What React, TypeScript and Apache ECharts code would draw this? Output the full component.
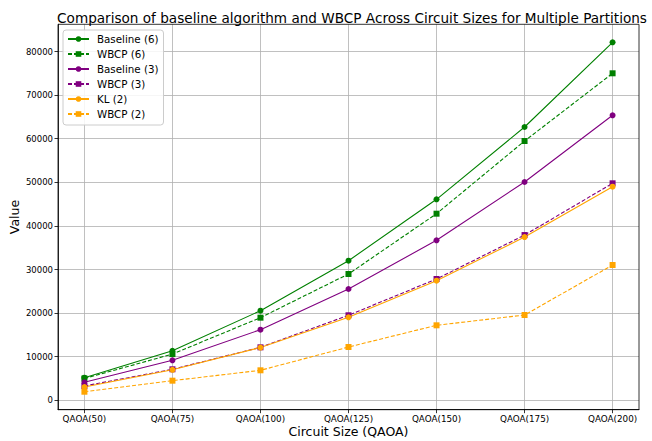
import React, { useEffect, useRef } from "react";
import * as echarts from "echarts";

const categories = ["QAOA(50)", "QAOA(75)", "QAOA(100)", "QAOA(125)", "QAOA(150)", "QAOA(175)", "QAOA(200)"];
const baseline6 = [5180, 11370, 20550, 32020, 46100, 62680, 82110];
const wbcp6 = [5000, 10600, 18950, 28970, 42800, 59470, 75000];
const baseline3 = [4130, 9170, 16200, 25530, 36700, 50070, 65370];
const wbcp3 = [3280, 7110, 12150, 19500, 27820, 37900, 49770];
const kl2 = [3050, 7000, 12100, 19040, 27430, 37440, 48990];
const wbcp2 = [1970, 4500, 6880, 12220, 17200, 19560, 31030];
const yTicks = [0, 10000, 20000, 30000, 40000, 50000, 60000, 70000, 80000];

const FONT = "DejaVu Sans";

export default function App() {
  const ref = useRef<HTMLDivElement>(null);
  useEffect(() => {
    if (!ref.current) return;
    const chart = echarts.init(ref.current, null, { renderer: "svg" });
    const mk = (name: string, data: number[], color: string, dashed: boolean) => ({
      name,
      type: "line",
      data: data.map((v, i) => [i, v]),
      symbol: dashed ? "rect" : "circle",
      symbolSize: 6,
      lineStyle: { color, width: 1.1, type: dashed ? [4, 2] : "solid" },
      itemStyle: { color },
      emphasis: { disabled: true },
    });
    const gl = 58, gr = 639, gt = 24.3, gb = 409.7;
    chart.setOption({
      animation: false,
      backgroundColor: "#fff",
      textStyle: { fontFamily: FONT },
      title: {
        text: "Comparison of baseline algorithm and WBCP Across Circuit Sizes for Multiple Partitions",
        left: 347,
        textAlign: "center",
        top: 6,
        textStyle: { fontFamily: FONT, fontSize: 13.6, fontWeight: "normal", color: "#000" },
      },
      grid: { left: gl, right: 652 - gr, top: gt, bottom: 441 - gb, containLabel: false, outerBoundsMode: "none" },
      legend: {
        orient: "vertical",
        left: 63,
        top: 30,
        itemWidth: 21,
        itemHeight: 7,
        itemGap: 3,
        padding: [3, 5, 5, 4],
        borderColor: "#ccc",
        borderWidth: 1,
        borderRadius: 3,
        backgroundColor: "rgba(255,255,255,0.85)",
        textStyle: { fontFamily: FONT, fontSize: 10.3, color: "#000", lineHeight: 12, padding: [0, 0, 0, 3] },
        data: ["Baseline (6)", "WBCP (6)", "Baseline (3)", "WBCP (3)", "KL (2)", "WBCP (2)"],
      },
      xAxis: {
        type: "value",
        min: -0.3,
        max: 6.3,
        name: "Circuit Size (QAOA)",
        nameLocation: "middle",
        nameGap: 15,
        nameMoveOverlap: false,
        nameTextStyle: { fontFamily: FONT, fontSize: 12.5, color: "#000" },
        axisLine: { show: true, onZero: false, lineStyle: { color: "#000", width: 0.8 } },
        axisTick: { show: true, length: 3.5, customValues: [0, 1, 2, 3, 4, 5, 6], lineStyle: { color: "#000", width: 0.8 } },
        axisLabel: {
          customValues: [0, 1, 2, 3, 4, 5, 6],
          formatter: (v: number) => categories[Math.round(v)] ?? "",
          fontFamily: FONT,
          fontSize: 8.8,
          color: "#000",
          margin: 5,
        },
        splitLine: { show: true, lineStyle: { color: "#b0b0b0", width: 0.8 } },
      },
      yAxis: {
        type: "value",
        min: -2156,
        max: 86240,
        name: "Value",
        nameLocation: "middle",
        nameGap: 37,
        nameMoveOverlap: false,
        nameTextStyle: { fontFamily: FONT, fontSize: 12.5, color: "#000" },
        axisLine: { show: true, onZero: false, lineStyle: { color: "#000", width: 0.8 } },
        axisTick: { show: true, length: 3.5, customValues: yTicks, lineStyle: { color: "#000", width: 0.8 } },
        axisLabel: {
          customValues: yTicks,
          formatter: (v: number) => String(v),
          fontFamily: FONT,
          fontSize: 8.5,
          color: "#000",
          margin: 5,
        },
        splitLine: { show: true, lineStyle: { color: "#b0b0b0", width: 0.8 } },
      },
      graphic: [
        {
          type: "rect",
          shape: { x: gl, y: gt, width: gr - gl, height: gb - gt },
          style: { fill: "none", stroke: "#000", lineWidth: 0.8 },
          silent: true,
          z: 100,
        },
      ],
      series: [
        mk("Baseline (6)", baseline6, "#008000", false),
        mk("WBCP (6)", wbcp6, "#008000", true),
        mk("Baseline (3)", baseline3, "#800080", false),
        mk("WBCP (3)", wbcp3, "#800080", true),
        mk("KL (2)", kl2, "#FFA500", false),
        mk("WBCP (2)", wbcp2, "#FFA500", true),
      ],
    });
    return () => chart.dispose();
  }, []);
  return <div ref={ref} style={{ width: 652, height: 441, position: "absolute", left: 0, top: 0 }} />;
}
